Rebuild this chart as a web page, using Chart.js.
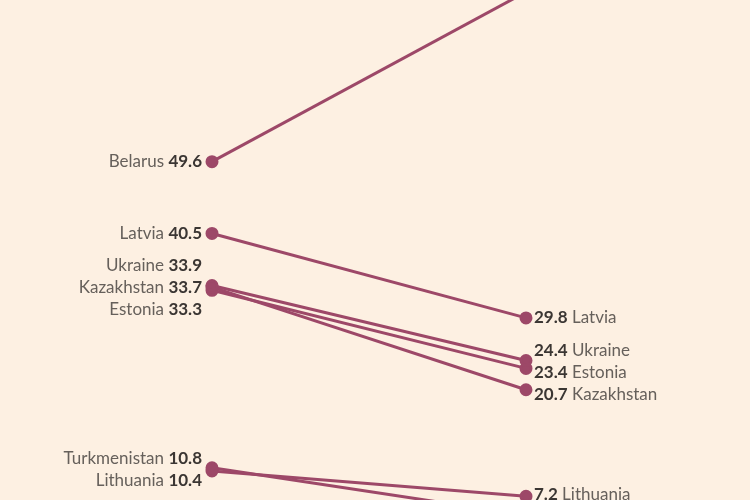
<!DOCTYPE html>
<html>
<head>
<meta charset="utf-8">
<script src="https://cdn.jsdelivr.net/npm/chart.js@4.4.0/dist/chart.umd.min.js"></script>
<style>
  html, body { margin: 0; padding: 0; background: #fdf0e2; }
  #wrap { width: 750px; height: 500px; }
</style>
</head>
<body>
<div id="wrap"><canvas id="myChart"></canvas></div>
<script>
var periods = ['Start', 'End'];
var countries = ['Belarus', 'Latvia', 'Ukraine', 'Kazakhstan', 'Estonia', 'Turkmenistan', 'Lithuania'];
var startValues = [49.6, 40.5, 33.9, 33.7, 33.3, 10.8, 10.4];
var endValues = [71.1, 29.8, 24.4, 20.7, 23.4, 4.8, 7.2];

var lineColour = '#9d4868';

// spread labels on each side so they don't overlap, then draw "name value"
var slopeLabels = {
    id: 'slopeLabels',
    afterDatasetsDraw: function(chart) {
        var ctx = chart.ctx;
        var gap = 22;
        [0, 1].forEach(function(side) {
            var items = chart.data.datasets.map(function(ds, i) {
                var pt = chart.getDatasetMeta(i).data[side];
                return { x: pt.x, y: pt.y, name: ds.label, value: ds.data[side] };
            }).sort(function(a, b) { return a.y - b.y; });

            var groups = items.map(function(it) { return [it]; });
            function place(g) {
                var mean = g.reduce(function(s, it) { return s + it.y; }, 0) / g.length;
                g.forEach(function(it, k) { it.ly = mean + (k - (g.length - 1) / 2) * gap; });
            }
            groups.forEach(place);
            var merged = true;
            while (merged) {
                merged = false;
                for (var i = 0; i < groups.length - 1; i++) {
                    var a = groups[i], b = groups[i + 1];
                    if (b[0].ly - a[a.length - 1].ly < gap) {
                        groups.splice(i, 2, a.concat(b));
                        place(groups[i]);
                        merged = true;
                        break;
                    }
                }
            }

            ctx.save();
            ctx.textBaseline = 'middle';
            var bold = 'bold 17px Lato, "Noto Sans", sans-serif';
            var reg = '17px Lato, "Noto Sans", sans-serif';
            items.forEach(function(it) {
                var valText = it.value.toFixed(1);
                if (side === 0) {
                    var x = it.x - 10;
                    ctx.textAlign = 'right';
                    ctx.font = bold;
                    ctx.fillStyle = '#3b3633';
                    ctx.fillText(valText, x, it.ly);
                    var w = ctx.measureText(valText).width;
                    ctx.font = reg;
                    ctx.fillStyle = '#66605b';
                    ctx.fillText(it.name + ' ', x - w, it.ly);
                } else {
                    var x2 = it.x + 8;
                    ctx.textAlign = 'left';
                    ctx.font = bold;
                    ctx.fillStyle = '#3b3633';
                    ctx.fillText(valText, x2, it.ly);
                    var w2 = ctx.measureText(valText).width;
                    ctx.font = reg;
                    ctx.fillStyle = '#66605b';
                    ctx.fillText(' ' + it.name, x2 + w2, it.ly);
                }
            });
            ctx.restore();
        });
    }
};

var ctx = document.getElementById('myChart').getContext('2d');
var myChart = new Chart(ctx, {
    type: 'line',
    data: {
        labels: periods,
        datasets: countries.map(function(name, i) {
            return {
                label: name,
                data: [startValues[i], endValues[i]],
                borderColor: lineColour,
                backgroundColor: lineColour,
                pointBackgroundColor: lineColour,
                pointBorderColor: lineColour,
                borderWidth: 3,
                pointRadius: 5,
                tension: 0,
                clip: false
            };
        })
    },
    options: {
        responsive: true,
        maintainAspectRatio: false,
        animation: false,
        layout: {
            padding: { left: 212, right: 224, top: 0, bottom: 0 }
        },
        plugins: {
            legend: { display: false },
            tooltip: { enabled: false }
        },
        scales: {
            x: { display: false, offset: false },
            y: { display: false, min: 7.74, max: 69.07 }
        }
    },
    plugins: [slopeLabels]
});
</script>
</body>
</html>
